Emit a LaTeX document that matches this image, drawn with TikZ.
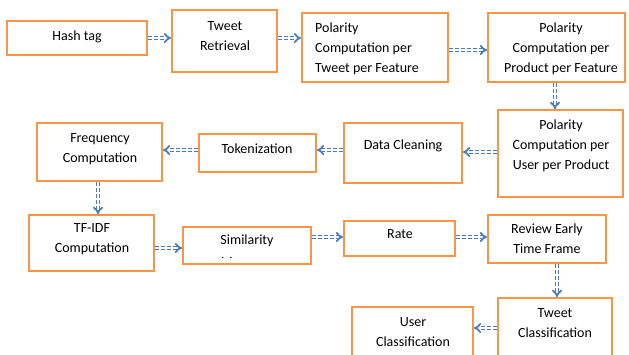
\documentclass[tikz,border=0pt]{standalone}
\usepackage{fontspec}
\setmainfont{Carlito}
\usetikzlibrary{arrows.meta}
\definecolor{boxorange}{HTML}{F79646}
\definecolor{flowblue}{HTML}{4A7EBB}
\tikzset{
  box/.style={draw=boxorange, line width=2pt, fill=white, inner sep=0pt, rectangle},
  lbl/.style={inner sep=0pt, font=\fontsize{14pt}{20pt}\selectfont, align=center, text=black},
  flow/.style={draw=flowblue, line width=1.8pt, double=white, double distance=1.3pt,
               dash pattern=on 4pt off 2pt, -{Implies[length=4pt]}},
}
\begin{document}
\begin{tikzpicture}[x=1pt, y=-1pt]
\useasboundingbox (0,0) rectangle (629,354);
\clip (0,0) rectangle (629,354);

% process boxes
\node[box, minimum width=140pt, minimum height=34pt] (hash) at (77,38) {};
\node[box, minimum width=105pt, minimum height=62pt] (retr) at (224.5,41) {};
\node[box, minimum width=146pt, minimum height=69pt] (ptf)  at (375,47.5) {};
\node[box, minimum width=137pt, minimum height=69pt] (ppf)  at (556.5,47.5) {};
\node[box, minimum width=125pt, minimum height=87pt] (pup)  at (560.5,153.5) {};
\node[box, minimum width=118pt, minimum height=60pt] (clean) at (403,153) {};
\node[box, minimum width=117pt, minimum height=38pt] (tok)  at (257.5,153) {};
\node[box, minimum width=125pt, minimum height=58pt] (freq) at (99.5,152) {};
\node[box, minimum width=125pt, minimum height=56pt] (tfidf) at (91.5,243) {};
\node[box, minimum width=128pt, minimum height=37pt] (sim)  at (247,245.5) {};
\node[box, minimum width=111pt, minimum height=35pt] (rate) at (399.5,238.5) {};
\node[box, minimum width=118pt, minimum height=48pt] (early) at (547,239) {};
\node[box, minimum width=114pt, minimum height=72pt] (tcls) at (555,334) {};
\node[box, minimum width=121pt, minimum height=64pt] (ucls) at (412.5,339) {};

% labels
\node[lbl] (thash) at (77,37) {Hash tag};
\node[lbl] (tretr) at (225,36.5) {Tweet\\Retrieval};
\node[lbl, anchor=west, align=left] (tptf) at (315,49) {Polarity\\Computation per\\Tweet per Feature};
\node[lbl] (tppf) at (561,49) {Polarity\\Computation per\\Product per Feature};
\node[lbl] (tpup) at (561,146) {Polarity\\Computation per\\User per Product};
\node[lbl] (tclean) at (403,146) {Data Cleaning};
\node[lbl] (ttok) at (257,149) {Tokenization};
\node[lbl] (tfreq) at (100,149.5) {Frequency\\Computation};
\node[lbl] (ttfidf) at (92,239) {TF-IDF\\Computation};
\node[lbl] (tsim) at (247,241) {Similarity};
% second line of the similarity label, cut by the box edge
\begin{scope}
  \clip (200,250) rectangle (300,257.2);
  \node[lbl, anchor=base] (tsim2) at (246,266) {Measure};
\end{scope}
\node[lbl] (trate) at (400,234) {Rate};
\node[lbl] (tearly) at (547,239) {Review Early\\Time Frame};
\node[lbl] (ttcls) at (555,323) {Tweet\\Classification};
\node[lbl] (tucls) at (413,332) {User\\Classification};

% flow connectors
\draw[flow] (hash.east) -- (retr.west |- hash.east);
\draw[flow] (retr.east |- hash.east) -- (ptf.west |- hash.east);
\draw[flow] (ptf.east |- 0,50) -- (ppf.west |- 0,50);
\draw[flow] (ppf.south -| 555,0) -- (pup.north -| 555,0);
\draw[flow] (pup.west |- 0,152) -- (clean.east |- 0,152);
\draw[flow] (clean.west |- 0,150) -- (tok.east |- 0,150);
\draw[flow] (tok.west |- 0,150) -- (freq.east |- 0,150);
\draw[flow] (freq.south -| 98,0) -- (tfidf.north -| 98,0);
\draw[flow] (tfidf.east |- 0,248) -- (sim.west |- 0,248);
\draw[flow] (sim.east |- 0,237) -- (rate.west |- 0,237);
\draw[flow] (rate.east |- 0,237) -- (early.west |- 0,237);
\draw[flow] (early.south -| 557,0) -- (tcls.north -| 557,0);
\draw[flow] (tcls.west |- 0,328) -- (ucls.east |- 0,328);
\end{tikzpicture}
\end{document}
